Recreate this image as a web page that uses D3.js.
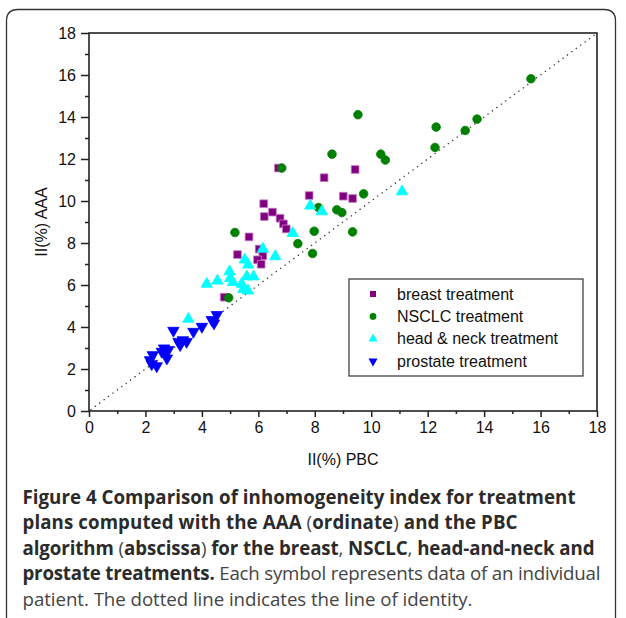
<!DOCTYPE html>
<html>
<head>
<meta charset="utf-8">
<script src="https://cdnjs.cloudflare.com/ajax/libs/d3/7.8.5/d3.min.js"></script>
<style>
  body { margin: 0; background: #fff; }
  .axis line { stroke: #222; stroke-width: 1.5; }
  .axis path { display: none; }
  .lbl { font-family: "Liberation Sans", Arial, sans-serif; font-size: 16px; fill: #111; }
  .cap { font-family: "Open Sans", sans-serif; font-size: 18.7px; }
  .cap .b { font-weight: bold; fill: #2b2b2b; }
  .cap .r { fill: #444; }
</style>
</head>
<body>
<script>
// data: [II(%) PBC, II(%) AAA]
var breast = [[6.71,11.57],[6.19,9.87],[6.50,9.47],[6.21,9.26],[6.77,9.18],[6.89,8.91],[6.99,8.67],
  [5.67,8.29],[5.26,7.45],[6.03,7.71],[6.16,7.39],[5.97,7.20],[6.10,6.99],[4.79,5.42],
  [8.33,11.11],[7.80,10.26],[9.01,10.23],[9.34,10.12],[9.43,11.50]];
var nsclc = [[6.83,11.57],[5.17,8.50],[4.95,5.39],[9.53,14.11],[8.61,12.23],[10.34,12.23],[10.50,11.95],
  [9.73,10.34],[8.13,9.69],[8.78,9.58],[8.96,9.45],[7.98,8.56],[9.34,8.53],[7.40,7.97],[7.92,7.50],
  [15.66,15.82],[13.75,13.90],[13.33,13.36],[12.30,13.52],[12.26,12.55]];
var headNeck = [[6.16,7.72],[6.60,7.36],[5.52,7.20],[5.64,6.96],[4.98,6.64],[5.59,6.40],[5.83,6.40],
  [5.00,6.32],[4.55,6.20],[4.17,6.05],[5.10,6.13],[5.41,6.05],[5.47,5.80],[5.63,5.73],
  [7.84,9.77],[8.25,9.50],[11.09,10.45],[7.22,8.47],[3.52,4.38]];
var prostate = [[4.53,4.58],[4.35,4.34],[4.43,4.18],[4.00,4.02],[3.70,3.78],[2.99,3.83],[3.17,3.30],
  [3.32,3.38],[3.46,3.30],[3.23,3.15],[2.66,2.99],[2.81,2.91],[2.70,2.75],[2.76,2.51],[2.26,2.67],
  [2.16,2.43],[2.22,2.24],[2.40,2.14],[2.58,2.83]];
var majorTicks = [0,2,4,6,8,10,12,14,16,18];
var minorTicks = [1,3,5,7,9,11,13,15,17];
var legendNames = ["breast treatment","NSCLC treatment","head & neck treatment","prostate treatment"];

var w = 626, h = 618;
var svg = d3.select("body").append("svg").attr("width", w).attr("height", h);

// outer figure border (open at the bottom)
svg.append("path")
  .attr("d", "M6.5," + h + " V21 Q6.5,9.5 18,9.5 H604 Q615.5,9.5 615.5,21 V" + h)
  .attr("fill", "none").attr("stroke", "#333").attr("stroke-width", 1.3);

var x = d3.scaleLinear().domain([0, 18]).range([89, 597]);
var y = d3.scaleLinear().domain([0, 18]).range([411, 33]);

// axes
svg.append("g").attr("class", "axis").attr("transform", "translate(0,411)")
  .call(d3.axisBottom(x).tickValues(majorTicks).tickSize(6).tickPadding(5))
  .selectAll("text").attr("class", "lbl").attr("font-size", null);
svg.append("g").attr("class", "axis").attr("transform", "translate(0,411)")
  .call(d3.axisBottom(x).tickValues(minorTicks).tickSize(3).tickFormat(""));
svg.append("g").attr("class", "axis").attr("transform", "translate(89,0)")
  .call(d3.axisLeft(y).tickValues(majorTicks).tickSize(8).tickPadding(5))
  .selectAll("text").attr("class", "lbl");
svg.append("g").attr("class", "axis").attr("transform", "translate(89,0)")
  .call(d3.axisLeft(y).tickValues(minorTicks).tickSize(4).tickFormat(""));

// frame
svg.append("rect").attr("x", x(0)).attr("y", y(18))
  .attr("width", x(18) - x(0)).attr("height", y(0) - y(18))
  .attr("fill", "none").attr("stroke", "#222").attr("stroke-width", 1.6);

// line of identity
svg.append("line")
  .attr("x1", x(0.05)).attr("y1", y(0.05)).attr("x2", x(17.95)).attr("y2", y(17.95))
  .attr("stroke", "#333").attr("stroke-width", 1.3).attr("stroke-dasharray", "1.3,4.2");

// axis titles
svg.append("text").attr("class", "lbl").attr("x", (x(0) + x(18)) / 2).attr("y", 465)
  .attr("text-anchor", "middle")
  .text("II(%) PBC");
svg.append("text").attr("class", "lbl").attr("transform", "translate(47," + y(9) + ") rotate(-90)")
  .attr("text-anchor", "middle")
  .text("II(%) AAA");

// series
var series = [
  {data: breast, type: d3.symbolSquare, size: 60, fill: "#800080", stroke: "#c77fc7", rot: 0},
  {data: nsclc, type: d3.symbolCircle, size: 58, fill: "#008000", stroke: "#008000", rot: 0},
  {data: headNeck, type: d3.symbolTriangle, size: 56, fill: "#00ffff", stroke: "#00ffff", rot: 0},
  {data: prostate, type: d3.symbolTriangle, size: 56, fill: "#0000ff", stroke: "#0000ff", rot: 180}
];

series.forEach(function(s) {
  svg.append("g").selectAll("path")
    .data(s.data)
    .enter()
    .append("path")
      .attr("d", d3.symbol().type(s.type).size(s.size))
      .attr("transform", function(d) { return "translate(" + x(d[0]) + "," + y(d[1]) + ") rotate(" + s.rot + ")"; })
      .attr("fill", s.fill)
      .attr("stroke", s.stroke)
      .attr("stroke-width", 0.8);
});

// legend
var lg = svg.append("g");
lg.append("rect").attr("x", 349).attr("y", 279).attr("width", 234).attr("height", 97)
  .attr("fill", "#fff").attr("stroke", "#333").attr("stroke-width", 1.2);
series.forEach(function(s, i) {
  var ly = 294 + i * 22.4;
  lg.append("path")
    .attr("d", d3.symbol().type(s.type).size(36))
    .attr("transform", "translate(373," + ly + ") rotate(" + s.rot + ")")
    .attr("fill", s.fill);
  lg.append("text").attr("class", "lbl").attr("x", 397).attr("y", ly + 5.5)
    .text(legendNames[i]);
});

// caption, one text per line, widths
var capLines = [
  [["b", "Figure 4 Comparison of inhomogeneity index for treatment"]],
  [["b", "plans computed with the AAA "], ["r", "("], ["b", "ordinate"], ["r", ")"], ["b", " and the PBC"]],
  [["b", "algorithm "], ["r", "("], ["b", "abscissa"], ["r", ")"], ["b", " for the breast"], ["r", ", "], ["b", "NSCLC"], ["r", ", "], ["b", "head-and-neck and"]],
  [["b", "prostate treatments."], ["r", " Each symbol represents data of an individual"]],
  [["r", "patient. The dotted line indicates the line of identity."]]
];
var capWidths = [553, 495, 572, 578, 450];
capLines.forEach(function(line, i) {
  var t = svg.append("text").attr("class", "cap").attr("xml:space", "preserve")
    .attr("x", 22.5).attr("y", 503.5 + i * 25.6)
    .attr("textLength", capWidths[i]).attr("lengthAdjust", "spacing");
  line.forEach(function(part) {
    t.append("tspan").attr("class", part[0]).text(part[1]);
  });
});
</script>
</body>
</html>
